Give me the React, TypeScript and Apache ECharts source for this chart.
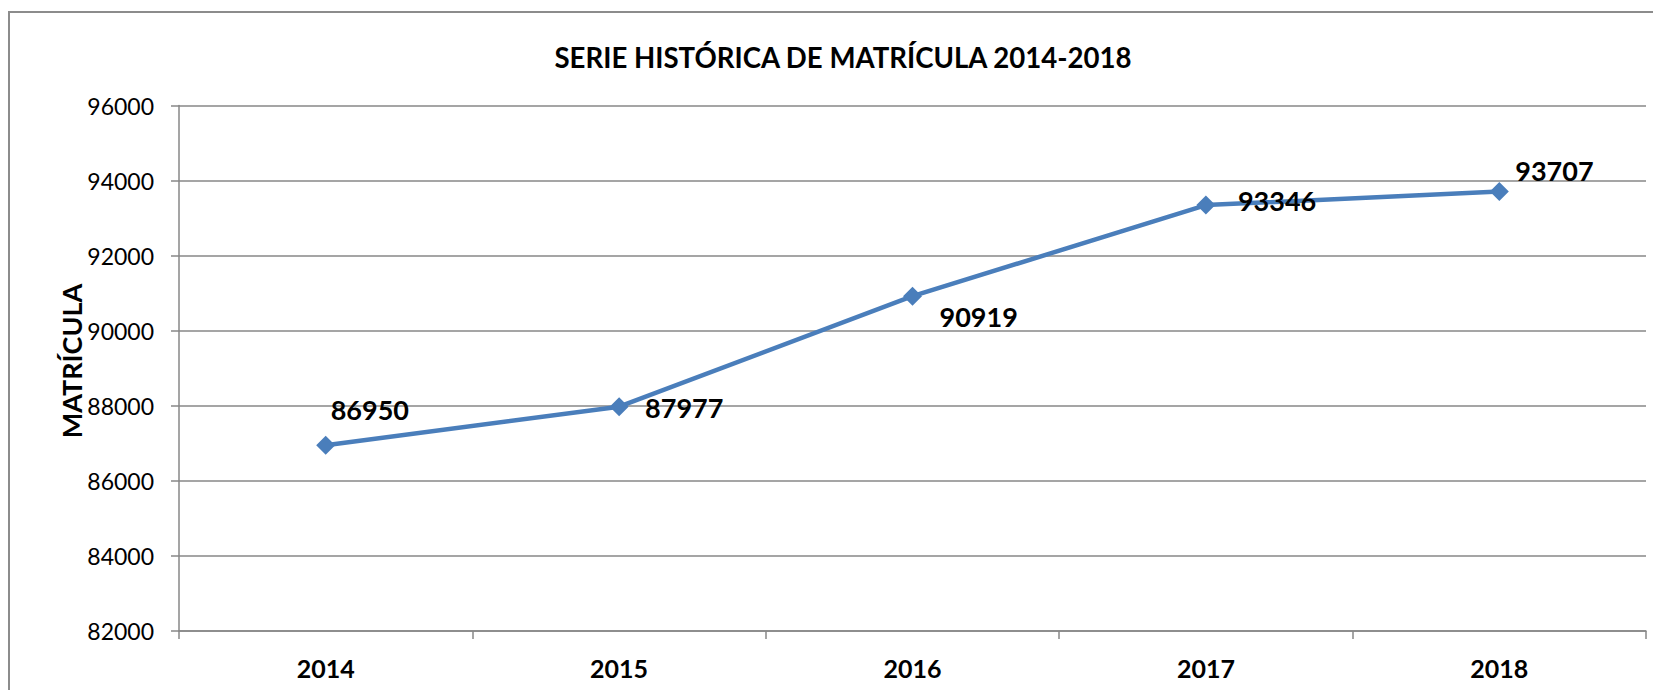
import React, { useEffect, useRef } from "react";
import * as echarts from "echarts";

const categories = ["2014", "2015", "2016", "2017", "2018"];
const matricula = [86950, 87977, 90919, 93346, 93707];
const labelOffsets: [number, number][] = [
  [5, -36],
  [26, 1],
  [27, 20],
  [32, -5],
  [16, -21],
];

const FONT = "Lato";
const GRAY = "#878787";

export default function App() {
  const ref = useRef<HTMLDivElement>(null);
  useEffect(() => {
    if (!ref.current) return;
    const chart = echarts.init(ref.current, undefined, { renderer: "svg" });
    chart.setOption({
      animation: false,
      backgroundColor: "#ffffff",
      title: {
        text: "SERIE HISTÓRICA DE MATRÍCULA 2014-2018",
        left: 830,
        top: 44,
        textAlign: "center",
        textVerticalAlign: "middle",
        textStyle: { fontFamily: FONT, fontWeight: "bold", fontSize: 27.6, color: "#000" },
      },
      graphic: [
        {
          type: "rect",
          shape: { x: 1, y: 4, width: 3000, height: 3000 },
          style: { fill: "none", stroke: "#8c8c8c", lineWidth: 2 },
          silent: true,
        },
        {
          type: "text",
          x: 63,
          y: 353,
          rotation: Math.PI / 2,
          style: {
            text: "MATRÍCULA",
            fontFamily: FONT,
            fontWeight: "bold",
            fontSize: 27,
            fill: "#000",
            align: "center",
            verticalAlign: "middle",
          },
          silent: true,
        },
      ],
      grid: { left: 171, top: 97.5, right: 15, bottom: 59 },
      xAxis: {
        type: "category",
        data: categories,
        boundaryGap: true,
        axisLine: { show: true, lineStyle: { color: GRAY, width: 1.5 } },
        axisTick: { show: true, length: 8, lineStyle: { color: GRAY, width: 1.5 } },
        axisLabel: {
          margin: 24,
          fontFamily: FONT,
          fontWeight: "bold",
          fontSize: 25,
          color: "#000",
        },
        splitLine: { show: false },
      },
      yAxis: {
        type: "value",
        min: 82000,
        max: 96000,
        interval: 2000,
        axisLine: { show: true, lineStyle: { color: GRAY, width: 1.5 } },
        axisTick: { show: true, length: 8, lineStyle: { color: GRAY, width: 1.5 } },
        axisLabel: {
          margin: 25,
          fontFamily: FONT,
          fontSize: 23,
          color: "#000",
          formatter: (v: number) => String(v),
        },
        splitLine: { show: true, lineStyle: { color: GRAY, width: 1.5 } },
      },
      series: [
        {
          type: "line",
          data: matricula.map((v, i) => ({
            value: v,
            label: {
              show: true,
              position: "inside",
              align: "left",
              verticalAlign: "middle",
              offset: labelOffsets[i],
              fontFamily: FONT,
              fontWeight: "bold",
              fontSize: 27,
              color: "#000",
              formatter: String(v),
            },
          })),
          symbol: "diamond",
          symbolSize: 19,
          lineStyle: { color: "#4a7ebb", width: 4.5 },
          itemStyle: { color: "#4a7ebb" },
        },
      ],
    });
    return () => chart.dispose();
  }, []);
  return <div ref={ref} style={{ width: 1653, height: 682 }} />;
}
